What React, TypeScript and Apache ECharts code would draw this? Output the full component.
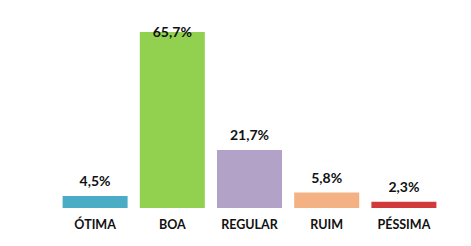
import React, { useEffect, useRef } from "react";
import * as echarts from "echarts";

const categories = ["ÓTIMA", "BOA", "REGULAR", "RUIM", "PÉSSIMA"];
const values = [4.5, 65.7, 21.7, 5.8, 2.3];
const colors = ["#4BACC6", "#92D050", "#B2A2C7", "#F4B183", "#D13A3A"];

export default function App() {
  const ref = useRef<HTMLDivElement>(null);
  useEffect(() => {
    const chart = echarts.init(ref.current!, null, { renderer: "svg" });
    chart.setOption({
      animation: false,
      grid: { left: 48.5, right: 36.5, top: 12.5, bottom: 46 },
      xAxis: {
        type: "category",
        data: categories,
        axisLine: { show: false },
        axisTick: { show: false },
        axisLabel: {
          margin: 10,
          fontFamily: "Lato",
          fontWeight: "bold",
          fontSize: 12.5,
          color: "#111",
        },
      },
      yAxis: {
        type: "value",
        min: 0,
        max: 70,
        show: false,
        splitLine: { show: false },
      },
      series: [
        {
          type: "bar",
          barWidth: 65,
          data: values.map((v, i) => ({
            value: v,
            itemStyle: { color: colors[i] },
            label: i === 1 ? { distance: -6 } : undefined,
          })),
          label: {
            show: true,
            position: "top",
            distance: 8,
            fontFamily: "Lato",
            fontWeight: "bold",
            fontSize: 14,
            color: "#111",
            formatter: (p: any) => p.value.toFixed(1).replace(".", ",") + "%",
          },
        },
      ],
    });
    return () => chart.dispose();
  }, []);
  return <div ref={ref} style={{ width: 471, height: 246 }} />;
}
